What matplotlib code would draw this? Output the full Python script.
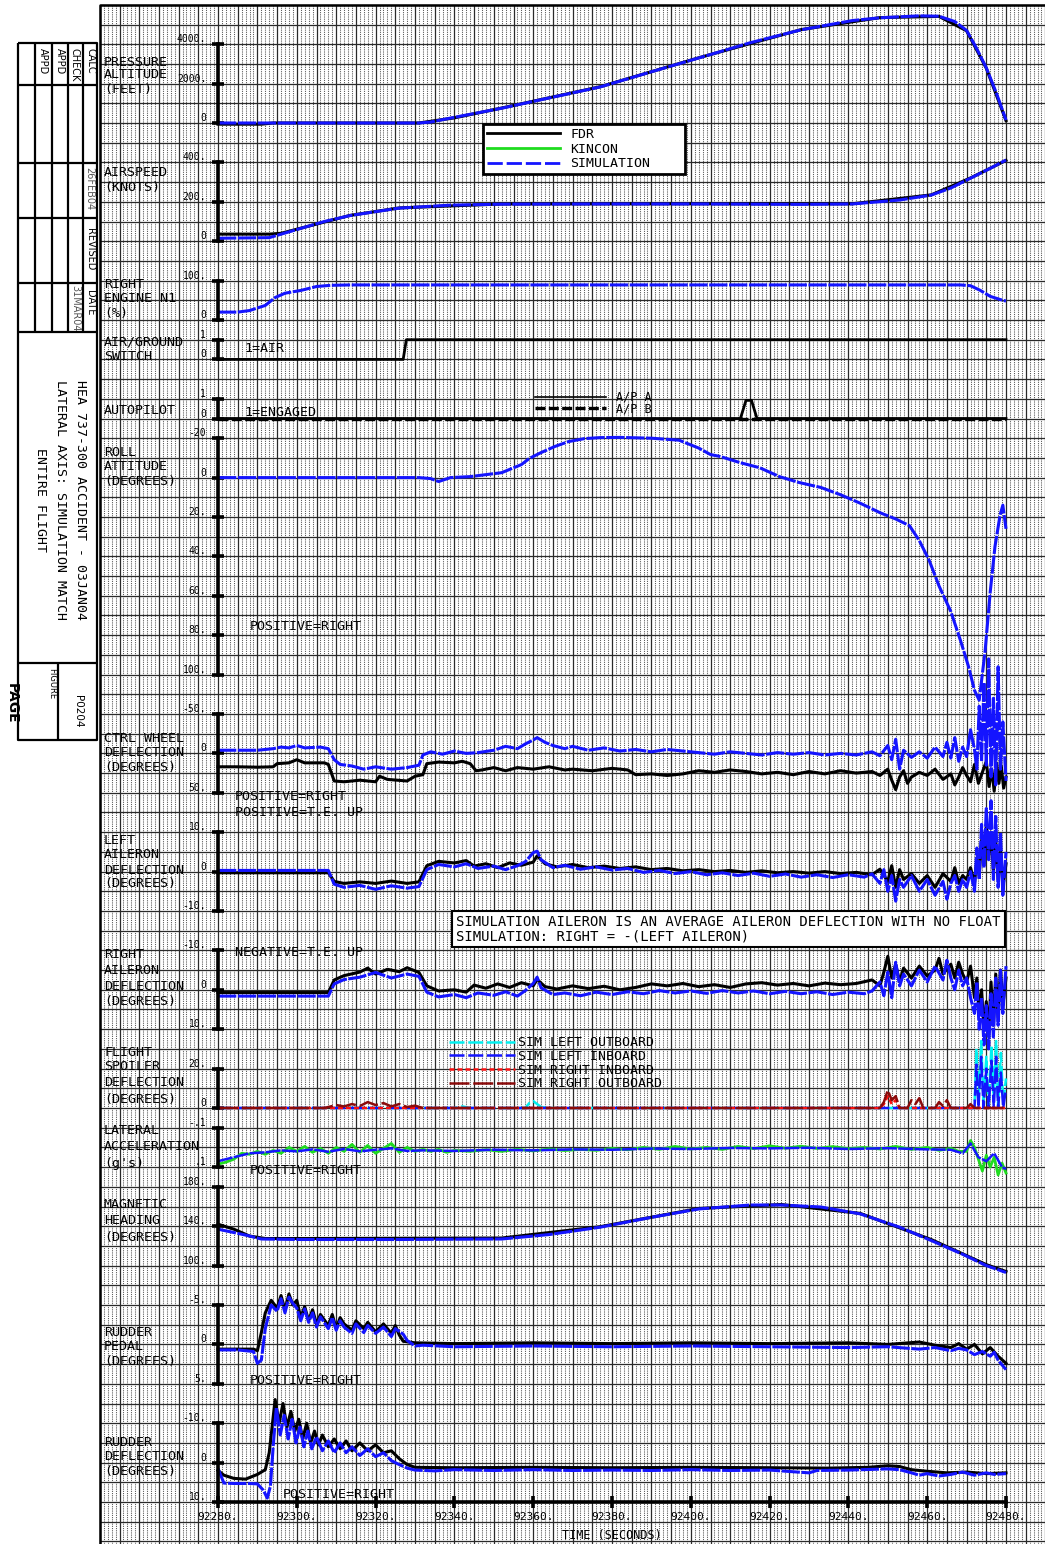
import numpy as np
import matplotlib
matplotlib.use("Agg")
import matplotlib.pyplot as plt
from matplotlib.lines import Line2D

plt.rcParams["font.family"] = ["DejaVu Sans Mono", "DejaVu Sans"]

# ---------------- data (time given as seconds after T0) ----------------
T0 = 92280
time_ticks = [92280, 92300, 92320, 92340, 92360, 92380, 92400, 92420, 92440, 92460, 92480]
time_labels = ["92280.", "92300.", "92320.", "92340.", "92360.", "92380.",
               "92400.", "92420.", "92440.", "92460.", "92480."]

# pressure altitude (ft)
alt_t = [0, 51, 54, 59, 65, 72, 84, 97, 110, 122, 135, 148, 161, 168, 178, 183, 187, 190, 192.5, 195, 197.5, 200]
alt_v = [0, 0, 50, 250, 480, 750, 1270, 1830, 2600, 3300, 4070, 4730, 5200, 5340, 5440, 5420, 5150, 4700, 3800, 2800, 1550, 150]
fdr_alt_t = [0, 11, 14, 51, 60, 72, 97, 122, 148, 168, 183, 190, 195, 200]
fdr_alt_v = [-60, -60, 0, 0, 260, 760, 1840, 3310, 4740, 5350, 5410, 4680, 2780, 120]

# airspeed (kts)
spd_t = [0, 13, 21, 27, 33.5, 40, 46, 59, 72, 97, 122, 148, 161, 173, 181, 186, 191, 196, 200]
spd_v = [15, 18, 65, 100, 130, 150, 168, 183, 188, 189, 189, 187, 189, 209, 234, 270, 320, 370, 412]
fdr_spd_t = [0, 13, 16, 21, 33.5, 46, 72, 122, 161, 181, 191, 200]
fdr_spd_v = [36, 36, 40, 66, 131, 169, 189, 190, 190, 235, 321, 410]

# right engine N1 (%)
eng_t = [0, 5, 8, 12, 14.5, 17, 21, 25, 28.5, 33.5, 100, 188.5, 191, 193.5, 196, 198.5, 200]
eng_v = [20, 20, 24, 37, 57, 68, 75, 85, 88, 89, 89, 89, 87, 75, 60, 52, 48]

# air/ground switch and autopilot
ag_t = [0, 47, 47.8, 200]
ag_v = [0, 0, 1, 1]
apa_t = [0, 132.6, 134, 135.4, 136.8, 200]
apa_v = [0, 0, 0.92, 0.92, 0, 0]
apb_t = [0, 200]
apb_v = [0, 0]

# roll attitude (deg, positive right)
roll_t = [0, 51, 54, 56, 59, 64, 72, 77, 79, 82, 85.5, 89, 93, 97, 102, 110, 117, 122, 125, 127.5,
          132.5, 137.5, 142.5, 147.5, 153, 158, 163, 168, 172, 175.5, 178, 180.5, 183, 186, 188.5,
          190.5, 192, 193.2, 194.7, 196, 197.2, 198.5, 199.2, 200]
roll_v = [0, 0, 0.5, 2, 0, -0.5, -2.5, -6.6, -9.7, -12.7, -15.8, -18.3, -19.8, -20.3, -20.4, -20, -19, -15, -11.7, -10.7,
          -7.6, -5, -0.5, 2.5, 5, 8.7, 13, 17.8, 21, 24.4, 32, 42, 55, 68, 83,
          96, 108, 113, 88, 58, 35, 19, 14, 26]

# control wheel (deg, positive right)
whl_fdr_t = [0, 5, 10, 14, 15, 18, 20, 22, 27, 28, 29.5, 32, 36, 40, 41, 43, 48, 50, 52, 53,
             56, 60, 62, 64, 65.5, 67, 70, 73, 76, 80, 84, 88, 90, 95, 100, 104, 106, 110, 114, 118,
             122, 126, 130, 134, 138, 142, 146, 150, 154, 158, 162, 166, 168, 170, 171, 172, 173, 174, 175, 176,
             178, 180, 182, 184, 186, 187, 188, 189, 190, 191, 192, 193, 194, 195, 195.7, 196.4, 197, 197.6,
             198.2, 198.8, 199.4, 200]
whl_fdr_v = [17, 17, 17.5, 17, 13, 12, 8, 12, 12, 14, 35, 36, 34, 36, 29, 33, 35, 29, 27, 13,
             11, 12, 10, 13, 22, 21, 18, 22, 18, 20, 17, 21, 20, 22, 19, 21, 27, 26, 28, 26,
             22, 24, 21, 23, 26, 24, 27, 23, 26, 22, 25, 23, 28, 20, 34, 46, 30, 22, 38, 30,
             24, 28, 20, 33, 26, 40, 30, 18, 28, 36, 14, 38, 24, 10, 42, 20, 48, 12,
             38, 16, 44, 30]
whl_sim_t = [0, 10, 14, 16, 18, 20, 22, 26, 28, 29.5, 31, 34, 37, 40, 44, 48, 51, 52, 54, 57,
             60, 63, 66, 70, 73, 76, 78, 80, 81, 83, 85, 88, 90, 94, 98, 102, 106, 110, 114, 118,
             122, 126, 130, 134, 138, 142, 146, 150, 154, 158, 162, 166, 168, 170, 171, 172, 173, 174, 176, 178,
             180, 182, 184, 185, 186, 187, 188, 189, 190, 191, 192, 192.6, 193.2, 193.8, 194.4, 195, 195.6, 196.2,
             196.8, 197.4, 198, 198.6, 199.2, 200]
whl_sim_v = [-4, -4, -6, -8, -7, -10, -7, -8, -6, 8, 14, 16, 20, 17, 20, 18, 15, 2, -2, 1,
             -3, 0, -1, -4, -9, -6, -12, -17, -20, -14, -10, -6, -9, -4, -7, -3, -5, -2, -5, -3,
             -1, 1, -2, 0, 2, -1, 1, -1, 2, 0, 2, -2, 3, -10, 8, -18, 20, -4, 5, -2,
             6, -8, 4, -14, 6, -20, 10, -8, 4, -30, -5, 20, -60, 10, -90, 15, -120, 30,
             -70, 40, -110, 20, -40, 35]

# left aileron (deg, positive T.E. up)
lail_fdr_t = [0, 28, 29.5, 32, 36, 40, 44, 48, 51, 53, 56, 60, 63, 65, 68, 71, 74, 77, 80, 81,
              83, 86, 90, 94, 98, 102, 106, 110, 114, 118, 122, 126, 130, 134, 138, 142, 146, 150, 154, 158,
              162, 166, 168, 170, 171, 172, 173, 174, 176, 178, 180, 182, 184, 186, 187, 188, 189, 190, 191, 192,
              192.6, 193.2, 193.8, 194.4, 195, 195.6, 196.2, 196.8, 197.4, 198, 198.6, 199.2, 200]
lail_fdr_v = [-0.3, -0.3, -2.5, -3, -2.6, -3, -2.4, -3, -2.6, 1.5, 2.6, 2.2, 2.8, 1.4, 2.0, 1.0, 2.2, 1.6, 2.4, 4.0,
              2.0, 1.2, 1.8, 1.0, 1.4, 0.8, 1.2, 0.5, 0.8, 0.2, 0.5, 0, 0.3, -0.2, 0.2, -0.3, 0, -0.4, 0, -0.5,
              -0.2, -0.8, 0.6, -2.5, 1.5, -4.0, 0.5, -2, -0.5, -3, -1, -4, -0.5, -2.5, 1, -3, -1, -2, 1, -3,
              3, -1, 8, 2, 12, 4, 10, 0, 8, -2, 6, -4, 2]
lail_sim_t = [0, 28, 29.5, 32, 36, 40, 44, 48, 51, 53, 56, 60, 63, 66, 70, 73, 76, 78, 80, 81,
              82, 85, 88, 92, 96, 100, 104, 108, 112, 116, 120, 124, 128, 132, 136, 140, 144, 148, 152, 156,
              160, 164, 166, 168, 169, 170, 171, 172, 173, 174, 176, 178, 180, 182, 184, 185, 186, 187, 188, 189,
              190, 191, 192, 192.6, 193.2, 193.8, 194.4, 195, 195.6, 196.2, 196.8, 197.4, 198, 198.6, 199.2, 200]
lail_sim_v = [0.3, 0.3, -3.2, -4, -3.5, -4.5, -3.6, -4.2, -3.8, 0.5, 1.8, 1.2, 2.0, 0.8, 1.4, 0.5, 1.5, 2.5, 4.8, 5.2,
              3.0, 1.0, 1.6, 0.6, 1.2, 0.4, 0.8, -0.2, 0.3, -0.5, 0, -0.8, -0.3, -1.0, -0.4, -1.2, -0.6, -1.4, -0.8, -1.5,
              -0.8, -1.4, -0.6, -3.0, 0.5, -5.0, -1, -7.5, -2, -4, -1, -5, -2, -6, -2.5, -7, -3, -1, -5, -2,
              -4, 0, -5, 6, -2, 12, 1, 16, 3, 18, -2, 14, -4, 10, -6, 5]

# right aileron (deg, negative T.E. up)
rail_fdr_t = [0, 28, 29.5, 32, 36, 38, 40, 43, 46, 48, 51, 53, 56, 60, 63, 65, 68, 71, 74, 77,
              80, 81, 83, 86, 90, 94, 98, 102, 106, 110, 114, 118, 122, 126, 130, 134, 138, 142, 146, 150,
              154, 158, 162, 166, 168, 169, 170, 171, 172, 173, 174, 176, 178, 180, 182, 183, 184, 186, 187, 188,
              189, 190, 191, 192, 192.6, 193.2, 193.8, 194.4, 195, 195.6, 196.2, 196.8, 197.4, 198, 198.6, 199.2, 200]
rail_fdr_v = [0.7, 0.7, -2.5, -3.6, -4.5, -5.5, -4.0, -5.2, -4.6, -5.6, -4.4, -1.0, 0.3, 0, 0.6, -1.2, -0.4, -1.5, -0.6, -1.8,
              -1.0, -2.6, -0.8, -0.2, -1.0, -0.3, -0.9, 0, -0.6, -1.5, -1.0, -1.6, -0.8, -1.3, -0.6, -1.5, -1.8, -1.2, -1.6, -1.0,
              -1.7, -1.3, -1.6, -2.5, -1.0, -4.5, -8.5, -3, -6.5, -2, -5.5, -3, -6, -3.5, -5, -8, -4, -6.5, -3, -7,
              -4, -2, -6, 2, -3, 6, 0, 10, 3, 11, -2, 9, -4, 7, -5, 4, -3]
rail_sim_t = [0, 28, 29.5, 32, 36, 40, 44, 48, 51, 53, 56, 60, 63, 66, 70, 73, 76, 78, 80, 81,
              82, 85, 88, 92, 96, 100, 104, 108, 112, 116, 120, 124, 128, 132, 136, 140, 144, 148, 152, 156,
              160, 164, 166, 168, 169, 170, 171, 172, 173, 174, 176, 178, 180, 182, 184, 185, 186, 187, 188, 189,
              190, 191, 192, 192.6, 193.2, 193.8, 194.4, 195, 195.6, 196.2, 196.8, 197.4, 198, 198.6, 199.2, 200]
rail_sim_v = [1.6, 1.6, -1.5, -2.6, -3.2, -4.4, -3.0, -4.0, -3.4, 0.6, 1.8, 1.2, 2.0, 0.8, 1.4, 0.5, 1.6, 0.2, -1.6, -3.2,
              -0.5, 1.2, 0.8, 1.5, 0.6, 1.2, 0.5, 1.0, 0.2, 0.8, 0.3, 0.9, 0.2, 0.8, 0.3, 1.0, 0.4, 1.0, 0.5, 1.2,
              0.6, 1.0, 0.3, -2.0, 1.5, -4.5, 2, -7, -1, -4, -1, -5, -2, -6, -2.5, -7.5, -3, 0, -5, -1,
              -3, 2, 6, -2, 10, 2, 14, 4, 15, 1, 12, -3, 9, -5, 6, -6]

# flight spoilers (deg)
sp_lo_t = [0, 30, 32, 34, 60, 62, 64, 78, 79, 80, 81, 82, 84, 192, 192.5, 193, 193.7, 194.3, 195, 195.6,
           196.3, 196.9, 197.5, 198, 198.7, 199.3, 200]
sp_lo_v = [0, 0, 1, 0, 0, 0.8, 0, 0, 2.5, 3.5, 2, 0.5, 0, 0, 30, 2, 34, 3, 26, 0,
           32, 5, 34, 0, 28, 2, 15]
sp_li_t = [0, 192, 192.5, 193, 193.7, 194.3, 195, 195.6, 196.3, 196.9, 197.5, 198, 198.7, 199.3, 200]
sp_li_v = [0, 0, 22, 0, 26, 0, 20, 0, 24, 0, 26, 0, 18, 0, 10]
sp_ri_t = [0, 168, 169, 170, 171, 172, 173, 200]
sp_ri_v = [0, 0, 2, 6, 2, 4, 0, 0]
sp_ro_t = [0, 27, 28, 30, 32, 34, 36, 38, 40, 42, 44, 46, 48, 50, 52, 168, 169, 170, 171, 172,
           173, 175, 176, 177, 178, 179, 182, 183, 184, 185, 186, 190, 191, 192, 200]
sp_ro_v = [0, 0, 0.5, 1.5, 0.8, 2.0, 1.0, 3.0, 1.5, 2.5, 0.8, 2.0, 0.5, 1.2, 0, 0, 3, 9, 4, 6,
           0, 0, 4, 2, 5, 0, 0, 3, 1, 4, 0, 0, 2, 0, 0]

# lateral acceleration (g)
lat_kin_t = [0, 2, 4, 6, 8, 10, 12, 14, 16, 18, 20, 22, 24, 26, 28, 30, 32, 34, 36, 38,
             40, 42, 44, 46, 48, 50, 52, 54, 56, 58, 60, 64, 68, 72, 76, 80, 84, 88, 92, 96,
             100, 104, 108, 112, 116, 120, 124, 128, 132, 136, 140, 144, 148, 152, 156, 160, 164, 168, 172, 176,
             180, 183, 186, 188, 190, 191, 192, 193, 194, 195, 196, 197, 198, 199, 200]
lat_kin_v = [0.085, 0.075, 0.06, 0.03, 0.035, 0.02, 0.035, 0.015, 0.03, 0.0, 0.02, -0.005, 0.025, 0.005, 0.03, 0.0,
             0.02, -0.015, 0.025, -0.01, 0.03, 0.005, -0.02, 0.025, 0.0, 0.02, 0.01, 0.02, 0.01, 0.025, 0.015,
             0.02, 0.012, 0.02, 0.01, 0.018, 0.008, 0.016, 0.01, 0.015, 0.005, 0.012, 0.0, 0.01, -0.005,
             0.008, 0.0, 0.01, -0.005, 0.006, -0.008, 0.004, -0.006, 0.005, -0.004, 0.006, 0.0, 0.008, -0.005, 0.01,
             0.0, 0.015, 0.005, 0.02, 0.02, -0.035, 0.0, 0.06, 0.12, 0.04, 0.1, 0.05, 0.14, 0.08, 0.13]
lat_sim_t = [0, 4, 8, 12, 16, 20, 24, 28, 32, 36, 40, 44, 48, 52, 60, 70, 80, 90, 100, 110,
             120, 130, 140, 150, 160, 170, 180, 186, 189, 191, 193, 195, 197, 199, 200]
lat_sim_v = [0.07, 0.05, 0.03, 0.025, 0.015, 0.02, 0.01, 0.022, 0.008, 0.02, 0.012, 0.005, 0.018, 0.015, 0.018,
             0.012, 0.015, 0.01, 0.012, 0.006, 0.008, 0.003, 0.005, 0.002, 0.008, 0.004, 0.01, 0.012, 0.03, -0.02,
             0.05, 0.07, 0.03, 0.1, 0.11]

# magnetic heading (deg)
hdg_t = [0, 7, 11, 21, 46, 72, 84, 97, 110, 122, 135, 143, 153, 163, 173, 181, 189, 195, 200]
hdg_v = [137, 131, 127, 126.5, 126.5, 127, 131.5, 139, 149, 157.5, 161.5, 161.5, 159.5, 152.5, 139, 125.5, 111.5, 100, 93]
fdr_hdg_t = [0, 4, 8, 12, 21, 72, 97, 122, 143, 163, 181, 195, 200]
fdr_hdg_v = [142, 137, 130, 127.5, 127.5, 128, 139.5, 158, 162, 153, 126.5, 101, 94]

# rudder pedal (deg)
rp_fdr_t = [0, 9, 10, 11, 12, 13.5, 15, 16, 17, 18, 19, 20, 21, 22, 23, 24, 25, 26, 28, 29,
            30, 31, 32, 34, 35, 37, 38, 40, 42, 44, 45, 46, 47, 50, 60, 80, 100, 120, 140, 160,
            170, 178, 182, 186, 188, 190, 192, 194, 196, 198, 200]
rp_fdr_v = [0.6, 0.6, 0.8, -1.5, -4, -5.6, -4.6, -6.2, -4.4, -6.4, -5.0, -5.6, -3.4, -4.8, -3.0, -4.4, -2.6, -3.8, -2.4, -3.8,
            -2.0, -3.4, -2.6, -1.8, -3.0, -2.0, -2.8, -1.6, -2.6, -1.4, -2.4, -1.2, -0.4, -0.2, -0.1, -0.2, -0.1, -0.2, -0.1, -0.2,
            0.0, -0.3, 0.1, 0.4, -0.1, 0.6, 0.0, 1.2, 0.4, 1.5, 2.4]
rp_sim_t = [0, 5, 9, 10, 11, 12, 13.5, 15, 16, 17, 18, 19, 20, 21, 22, 23, 24, 25, 26, 28,
            29, 30, 31, 32, 34, 35, 37, 38, 40, 42, 44, 45, 47, 48, 50, 52, 60, 80, 100, 120,
            140, 160, 170, 178, 182, 186, 188, 190, 192, 194, 196, 197, 198, 199, 200]
rp_sim_v = [0.7, 0.7, 0.9, 2.4, 2.0, -2, -5.0, -4.2, -5.8, -4.0, -6.0, -5.2, -4.6, -3.0, -4.5, -2.8, -4.0, -2.2, -3.5, -2.0,
            -3.4, -1.8, -3.0, -2.2, -1.4, -2.6, -1.5, -2.4, -1.4, -2.2, -1.0, -2.0, -1.3, -0.5, 0.2, 0.1, 0.3, 0.2, 0.3, 0.2,
            0.3, 0.4, 0.3, 0.6, 0.4, 0.8, 0.5, 0.7, 1.3, 0.9, 1.5, 1.0, 2.0, 2.6, 3.2]

# rudder deflection (deg)
rd_fdr_t = [0, 1.5, 4, 7, 10, 12, 13, 14.5, 15.5, 16.5, 17.5, 18.5, 19.5, 20.5, 21.5, 22.5, 23.5, 24.5, 25.5, 26.5,
            28, 29.5, 31, 32.5, 34, 36, 38, 40, 42, 44, 46, 48, 50, 60, 80, 100, 120, 140, 155, 165,
            170, 173, 176, 180, 185, 190, 195, 200]
rd_fdr_v = [2.0, 3.2, 4.0, 4.2, 3.0, 1.8, -2.5, -16, -10, -15, -9, -13, -8, -11, -6, -10, -5, -8, -4.5, -7,
            -4, -6, -3.5, -5.5, -3, -5, -3, -4.5, -2.5, -3.0, -1, 0.5, 1.2, 1.3, 1.2, 1.3, 1.2, 1.3, 1.4, 1.2,
            0.8, 1.0, 1.8, 2.2, 2.6, 2.4, 2.8, 2.6]
rd_sim_t = [0, 1.5, 4, 8, 10, 11.5, 12.5, 13.3, 14, 14.8, 15.8, 16.8, 17.8, 18.8, 19.8, 20.8, 21.8, 22.8, 23.8, 25,
            26.5, 28, 29.5, 31, 32.5, 34, 36, 38, 40, 42, 44, 46, 48, 50, 55, 60, 70, 80, 90, 100,
            110, 120, 130, 140, 150, 152, 160, 170, 173, 176, 178, 180, 183, 186, 189, 192, 195, 197, 200]
rd_sim_v = [1.5, 5.2, 5.3, 5.3, 5.4, 7.0, 9.0, 6.0, -4, -14, -7, -12, -6, -11, -5, -9, -4, -8, -3.5, -6.5,
            -3, -5.5, -2.5, -5, -2.5, -4, -1.8, -3.5, -1.5, -2.5, -0.5, 0.5, 1.4, 1.9, 2.1, 1.8, 2.0, 1.8, 2.0, 1.9,
            2.0, 1.8, 2.0, 1.9, 2.6, 2.0, 1.9, 1.6, 1.8, 2.6, 3.2, 2.8, 3.4, 3.0, 2.4, 3.2, 2.6, 3.0, 2.8]

# ---------------- page layout (pixels) ----------------
W, H = 1045, 1544
U = 19.7                 # graph paper cell
X_AX, X_END = 218, 1006  # time axis 92280 .. 92480
Y0 = 4.8                 # top line of the paper

FDR_C, KIN_C, SIM_C = "black", "#1fdc1f", "#1414ff"
SIM_DASH = (6, 0.5)      # scaled by line width


def row(k):
    return Y0 + k * U


fig = plt.figure(figsize=(W / 100, H / 100), dpi=100)
bg = fig.add_axes([0, 0, 1, 1])
bg.set_xlim(0, W)
bg.set_ylim(H, 0)
bg.axis("off")

# graph paper
gx0 = X_AX - 6 * U
major_x = gx0 + U * np.arange(49)
major_y = Y0 + U * np.arange(80)
minor_x = np.array([gx0 + U * i / 5 for i in range(48 * 5) if i % 5])
bg.vlines(minor_x, Y0, H, colors="#5e5e5e", lw=0.75, linestyles=(0, (1.1, 1.0)))
bg.vlines(major_x, Y0, H, colors="#2a2a2a", lw=0.9)
bg.hlines(major_y, gx0, W, colors="#2a2a2a", lw=0.9)
bg.plot([gx0, gx0, W], [H, Y0, Y0], color="black", lw=1.8)

# title block
blk = dict(color="black", lw=1.6, solid_capstyle="butt")
bg.plot([18, 97, 97, 18, 18], [43, 43, 740, 740, 43], **blk)
for xv in [35, 52, 68, 83]:
    bg.plot([xv, xv], [43, 332], **blk)
for yv in [85, 163, 218, 283, 332, 663]:
    bg.plot([18, 97], [yv, yv], **blk)
bg.plot([58, 58], [663, 740], **blk)
small = dict(rotation=-90, ha="center", va="top", family="DejaVu Sans", fontsize=7)
bg.text(90, 48, "CALC", **small)
bg.text(75, 48, "CHECK", **small)
bg.text(60, 48, "APPD", **small)
bg.text(43, 48, "APPD", **small)
bg.text(89, 167, "26FEB04", color="#555555", **small)
bg.text(90, 228, "REVISED", **small)
bg.text(90, 290, "DATE", **small)
bg.text(75, 285, "31MAR04", color="#555555", **small)
bg.text(52, 668, "FIGURE", **dict(small, fontsize=6))
bg.text(78, 711, "P0204", rotation=-90, ha="center", va="center", family="DejaVu Sans", fontsize=7.5)
bg.text(12, 703, "PAGE", rotation=-90, ha="center", va="center", family="DejaVu Sans",
        fontsize=10, fontweight="bold")
for xv, txt in [(80, "HEA 737-300 ACCIDENT - 03JAN04"), (60, "LATERAL AXIS: SIMULATION MATCH"),
                (40, "ENTIRE FLIGHT")]:
    bg.text(xv, 500, txt, rotation=-90, ha="center", va="center", fontsize=9.5)

# panel captions
captions = [(62, "PRESSURE"), (75, "ALTITUDE"), (89, "(FEET)"),
            (173, "AIRSPEED"), (187, "(KNOTS)"),
            (284, "RIGHT"), (299, "ENGINE N1"), (314, "(%)"),
            (342, "AIR/GROUND"), (356, "SWITCH"),
            (410, "AUTOPILOT"),
            (452, "ROLL"), (467, "ATTITUDE"), (482, "(DEGREES)"),
            (738, "CTRL WHEEL"), (753, "DEFLECTION"), (768, "(DEGREES)"),
            (840, "LEFT"), (855, "AILERON"), (870, "DEFLECTION"), (884, "(DEGREES)"),
            (955, "RIGHT"), (971, "AILERON"), (987, "DEFLECTION"), (1002, "(DEGREES)"),
            (1052, "FLIGHT"), (1067, "SPOILER"), (1083, "DEFLECTION"), (1100, "(DEGREES)"),
            (1131, "LATERAL"), (1147, "ACCELERATION"), (1163, "(g's)"),
            (1205, "MAGNETIC"), (1221, "HEADING"), (1237, "(DEGREES)"),
            (1332, "RUDDER"), (1347, "PEDAL"), (1362, "(DEGREES)"),
            (1442, "RUDDER"), (1457, "DEFLECTION"), (1472, "(DEGREES)")]
for yv, txt in captions:
    bg.text(104, yv, txt, ha="left", va="center", fontsize=9.6)

notes = [(250, 627, "POSITIVE=RIGHT"), (235, 797, "POSITIVE=RIGHT"), (235, 812, "POSITIVE=T.E. UP"),
         (235, 953, "NEGATIVE=T.E. UP"), (250, 1170, "POSITIVE=RIGHT"), (250, 1381, "POSITIVE=RIGHT"),
         (283, 1494, "POSITIVE=RIGHT"), (244, 349, "1=AIR"), (244, 413, "1=ENGAGED")]
for xv, yv, txt in notes:
    bg.text(xv, yv, txt, ha="left", va="center", fontsize=9.6)

bg.text(456, 929, "SIMULATION AILERON IS AN AVERAGE AILERON DEFLECTION WITH NO FLOAT\n"
        "SIMULATION: RIGHT = -(LEFT AILERON)", ha="left", va="center", fontsize=10,
        linespacing=1.05, bbox=dict(boxstyle="square,pad=0.3", fc="white", ec="black", lw=1.5), zorder=5)


def panel(k_top, k_bot, v_top, v_bot, ticks, labels):
    top, bot = row(k_top), row(k_bot)
    ax = fig.add_axes([X_AX / W, 1 - bot / H, (X_END - X_AX) / W, (bot - top) / H])
    ax.patch.set_visible(False)
    ax.set_xlim(T0, T0 + 200)
    ax.set_ylim(v_bot, v_top)
    for side in ("top", "right", "bottom"):
        ax.spines[side].set_visible(False)
    ax.spines["left"].set_linewidth(2.6)
    ax.set_xticks([])
    ax.set_yticks(ticks, labels, va="bottom", fontsize=7)
    ax.tick_params(axis="y", direction="inout", length=9, width=2.6, pad=4)
    return ax


def trace(ax, t, v, color, lw=2.0, dashes=None):
    kw = dict(color=color, lw=lw, clip_on=False)
    if dashes is not None:
        kw["dashes"] = dashes
    return ax.plot(T0 + np.asarray(t), v, **kw)[0]


ax = panel(2, 6, 4000, 0, [0, 2000, 4000], ["0", "2000.", "4000."])
trace(ax, fdr_alt_t, fdr_alt_v, FDR_C, 2.2)
trace(ax, alt_t, alt_v, SIM_C, 2.2, SIM_DASH)

ax = panel(8, 12, 400, 0, [0, 200, 400], ["0", "200.", "400."])
trace(ax, fdr_spd_t, fdr_spd_v, FDR_C, 2.2)
trace(ax, spd_t, spd_v, SIM_C, 2.2, SIM_DASH)

ax = panel(14, 16, 100, 0, [0, 100], ["0", "100."])
trace(ax, eng_t, eng_v, SIM_C, 2.2, SIM_DASH)

ax = panel(17, 18, 1, 0, [0, 1], ["0", "1"])
trace(ax, ag_t, ag_v, FDR_C, 2.0)

ax = panel(20, 21, 1, 0, [0, 1], ["0", "1"])
trace(ax, apb_t, apb_v, FDR_C, 2.4, (3, 1))
trace(ax, apa_t, apa_v, FDR_C, 2.0)

ax = panel(22, 34, -20, 100, [-20, 0, 20, 40, 60, 80, 100],
           ["-20", "0", "20.", "40.", "60.", "80.", "100."])
trace(ax, roll_t, roll_v, SIM_C, 2.2, SIM_DASH)

ax = panel(36, 40, -50, 50, [-50, 0, 50], ["-50.", "0", "50."])
trace(ax, whl_fdr_t, whl_fdr_v, FDR_C, 2.2)
trace(ax, whl_sim_t, whl_sim_v, SIM_C, 2.2, SIM_DASH)

ax = panel(42, 46, 10, -10, [10, 0, -10], ["10.", "0", "-10."])
trace(ax, lail_fdr_t, lail_fdr_v, FDR_C, 2.2)
trace(ax, lail_sim_t, lail_sim_v, SIM_C, 2.2, SIM_DASH)

ax = panel(48, 52, -10, 10, [-10, 0, 10], ["-10.", "0", "10."])
trace(ax, rail_fdr_t, rail_fdr_v, FDR_C, 2.2)
trace(ax, rail_sim_t, rail_sim_v, SIM_C, 2.2, SIM_DASH)

ax = panel(54, 56, 20, 0, [0, 20], ["0", "20."])
l_lo = trace(ax, sp_lo_t, sp_lo_v, "#00f0f0", 1.8, (6, 1.5))
l_li = trace(ax, sp_li_t, sp_li_v, SIM_C, 1.8, (6, 1.5))
l_ri = trace(ax, sp_ri_t, sp_ri_v, "#ff1010", 1.8, (2, 1.2))
l_ro = trace(ax, sp_ro_t, sp_ro_v, "#8b0a0a", 1.8, (8, 1.5))

ax = panel(57, 59, -0.1, 0.1, [-0.1, 0.1], ["-.1", ".1"])
trace(ax, lat_kin_t, lat_kin_v, KIN_C, 2.0)
trace(ax, lat_sim_t, lat_sim_v, SIM_C, 1.8, SIM_DASH)

ax = panel(60, 64, 180, 100, [180, 140, 100], ["180.", "140.", "100."])
trace(ax, fdr_hdg_t, fdr_hdg_v, FDR_C, 2.2)
trace(ax, hdg_t, hdg_v, SIM_C, 2.2, SIM_DASH)

ax = panel(66, 70, -5, 5, [-5, 0, 5], ["-5.", "0", "5."])
trace(ax, rp_fdr_t, rp_fdr_v, FDR_C, 2.2)
trace(ax, rp_sim_t, rp_sim_v, SIM_C, 2.2, SIM_DASH)

ax = panel(72, 76, -10, 10, [-10, 0, 10], ["-10.", "0", "10."])
trace(ax, rd_fdr_t, rd_fdr_v, FDR_C, 2.2)
trace(ax, rd_sim_t, rd_sim_v, SIM_C, 2.2, SIM_DASH)
ax.spines["bottom"].set_visible(True)
ax.spines["bottom"].set_linewidth(2.6)
ax.set_xticks(time_ticks, time_labels, fontsize=8)
ax.tick_params(axis="x", direction="inout", length=9, width=2.6, pad=3)
ax.set_xlabel("TIME (SECONDS)", fontsize=8.5, labelpad=5)

# legends
leg = fig.legend(handles=[Line2D([], [], color=FDR_C, lw=2),
                          Line2D([], [], color=KIN_C, lw=2),
                          Line2D([], [], color=SIM_C, lw=2, dashes=(5.5, 1.4))],
                 labels=["FDR", "KINCON", "SIMULATION"], loc="upper left", mode="expand",
                 bbox_to_anchor=(483 / W, 1 - 172 / H, 202 / W, 48 / H), frameon=True, fancybox=False,
                 framealpha=1, edgecolor="black", borderaxespad=0, handlelength=5.5, handletextpad=0.8,
                 labelspacing=0.12, borderpad=0.3, fontsize=9.5)
leg.get_frame().set_linewidth(2)

fig.legend(handles=[l_lo, l_li, l_ri, l_ro],
           labels=["SIM LEFT OUTBOARD", "SIM LEFT INBOARD", "SIM RIGHT INBOARD", "SIM RIGHT OUTBOARD"],
           loc="upper left", bbox_to_anchor=(444 / W, 1 - 1031 / H), frameon=False, borderaxespad=0,
           handlelength=5.0, handletextpad=0.2, labelspacing=0.05, fontsize=9.5)

fig.legend(handles=[Line2D([], [], color=FDR_C, lw=1.2), Line2D([], [], color=FDR_C, lw=2.4, dashes=(3, 1))],
           labels=["A/P A", "A/P B"], loc="upper left", bbox_to_anchor=(530 / W, 1 - 386 / H),
           frameon=False, borderaxespad=0, handlelength=6.0, handletextpad=0.9,
           labelspacing=-0.1, fontsize=8.5)

fig.savefig("out.png", dpi=100)
